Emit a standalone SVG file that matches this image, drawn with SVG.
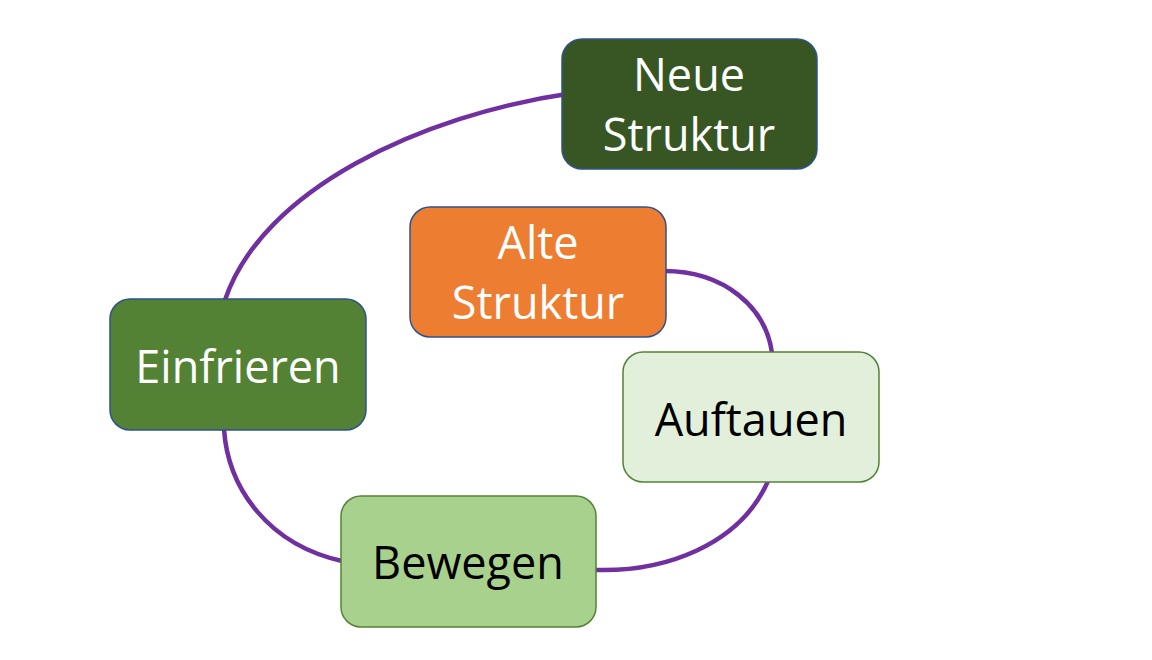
<svg xmlns="http://www.w3.org/2000/svg" width="1152" height="660" viewBox="0 0 1152 660">
<style>
.box{stroke-width:1.5}
.t{font-family:"Open Sans","Liberation Sans",sans-serif;font-size:45px;text-anchor:middle}
.w{fill:#ffffff}
.k{fill:#000000}
.c{fill:none;stroke:#7030A0;stroke-width:4.5}
</style>
<rect width="1152" height="660" fill="#ffffff"/>
<g id="connectors">
<path class="c" d="M664,271 C725,271 766,308 772,353"/>
<path class="c" d="M768,481 C740,545 665,572 596,570"/>
<path class="c" d="M342,561 C270,545 228,490 224,429"/>
<path class="c" d="M225,300 C262,190 420,115 573,93"/>
</g>
<g id="neue-struktur">
<rect class="box" x="562" y="39" width="255" height="130" rx="20" fill="#375623" stroke="#2F528F"/>
<text class="t w" x="689" y="91">Neue</text>
<text class="t w" x="689" y="151">Struktur</text>
</g>
<g id="alte-struktur">
<rect class="box" x="410" y="207" width="256" height="130" rx="20" fill="#ED7D31" stroke="#2F528F"/>
<text class="t w" x="538" y="259">Alte</text>
<text class="t w" x="538" y="319">Struktur</text>
</g>
<g id="einfrieren">
<rect class="box" x="110" y="299" width="256" height="131" rx="20" fill="#548235" stroke="#2F528F"/>
<text class="t w" x="238" y="383">Einfrieren</text>
</g>
<g id="auftauen">
<rect class="box" x="623" y="352" width="256" height="130" rx="20" fill="#E2EFDA" stroke="#548235"/>
<text class="t k" x="751" y="436">Auftauen</text>
</g>
<g id="bewegen">
<rect class="box" x="341" y="496" width="255" height="131" rx="20" fill="#A9D18E" stroke="#548235"/>
<text class="t k" x="468" y="579">Bewegen</text>
</g>
</svg>
